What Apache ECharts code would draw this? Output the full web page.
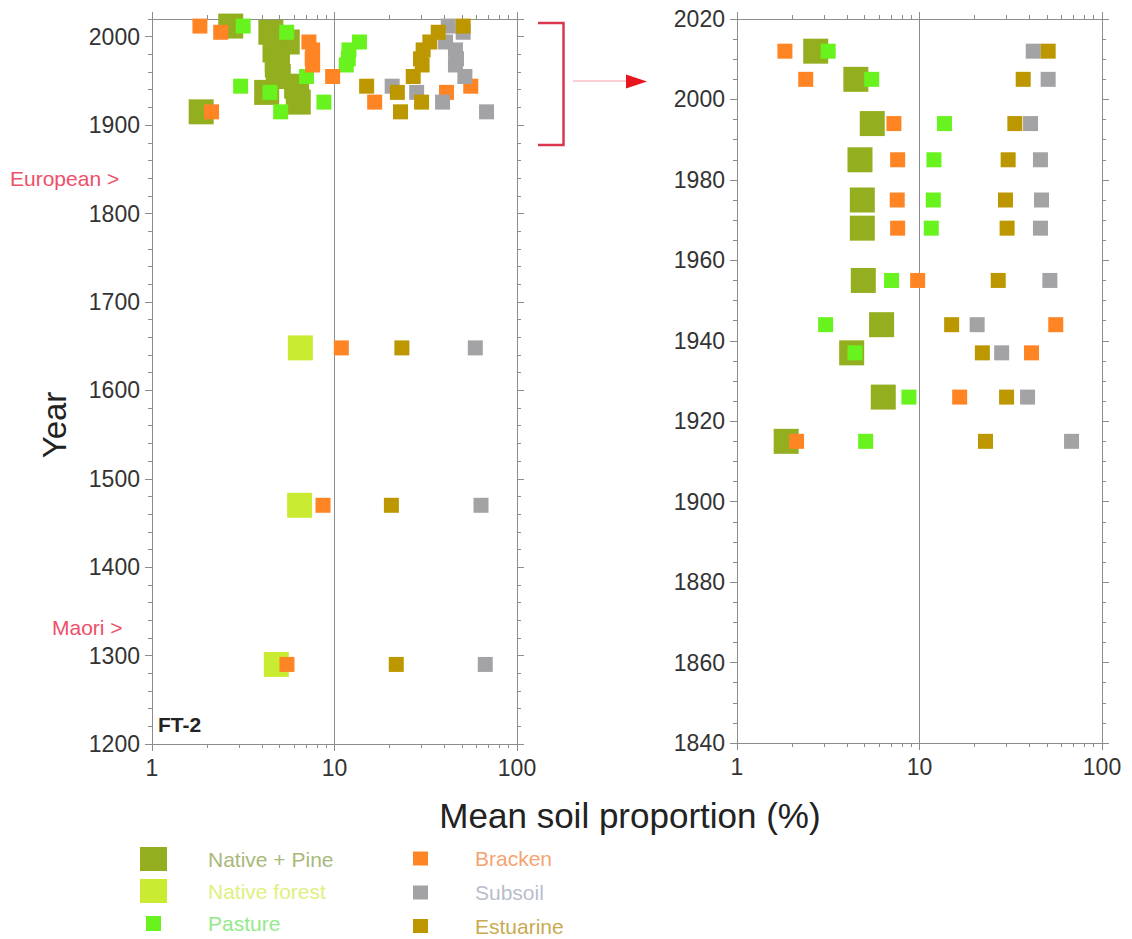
<!DOCTYPE html>
<html>
<head>
<meta charset="utf-8">
<title>FT-2 mean soil proportion by year</title>
<script src="https://cdn.jsdelivr.net/npm/echarts@6/dist/echarts.min.js"></script>
<style>
  html, body { margin: 0; padding: 0; background: #ffffff; }
  #chart { width: 1132px; height: 939px; }
</style>
</head>
<body>
<div id="chart"></div>
<script>
// Core dating horizons (years) and mean soil proportions (%) per source
const recentYears = [2012, 2005, 1994, 1985, 1975, 1968, 1955, 1944, 1937, 1926, 1915];
const earlyYears = [1648, 1470, 1290];

const nativePine = [2.70, 4.48, 5.51, 4.72, 4.86, 4.86, 4.92, 6.20, 4.25, 6.33, 1.86];
const pasture = [3.16, 5.47, 13.7, 12.0, 11.9, 11.6, 7.03, 3.06, 4.43, 8.75, 5.07];
const brackenRecent = [1.83, 2.38, 7.24, 7.59, 7.55, 7.59, 9.77, 55.8, 41.1, 16.6, 2.12];
const subsoilRecent = [42.0, 50.7, 40.6, 46.0, 46.6, 46.0, 51.8, 20.7, 28.2, 39.1, 68.1];
const estuarineRecent = [50.7, 37.0, 33.3, 30.6, 29.6, 30.2, 27.0, 15.0, 22.1, 30.0, 23.0];

const nativeForest = [6.50, 6.44, 4.80];
const brackenEarly = [10.9, 8.65, 5.49];
const subsoilEarly = [59.1, 63.5, 67.0];
const estuarineEarly = [23.4, 20.5, 21.8];

const FONT = '"Liberation Sans", Arial, Helvetica, sans-serif';
const AXIS_GRAY = '#8c8c8c';
const LABEL_COLOR = '#333333';

function pairs(values, years) {
  return values.map(function (v, i) { return [v, years[i]]; });
}

// source groups: name, colour, marker size, legend text colour, legend placement,
// data for the full record and for the 1840-2020 detail panel
const groups = [
  { name: 'Native + Pine', color: '#93ae1f', size: 25, text: '#a9b97a', lg: [140, 847, 27, 24, 36],
    full: pairs(nativePine, recentYears), detail: pairs(nativePine, recentYears) },
  { name: 'Native forest', color: '#c9ec32', size: 25, text: '#e0f07e', lg: [140, 879, 27, 24, 36],
    full: pairs(nativeForest, earlyYears), detail: [] },
  { name: 'Pasture', color: '#68f21e', size: 15, text: '#94e98a', lg: [146, 911.5, 15, 15, 42],
    full: pairs(pasture, recentYears), detail: pairs(pasture, recentYears) },
  { name: 'Bracken', color: '#ff8424', size: 15, text: '#f5a372', lg: [413, 846.5, 15, 14, 42],
    full: pairs(brackenRecent, recentYears).concat(pairs(brackenEarly, earlyYears)),
    detail: pairs(brackenRecent, recentYears) },
  { name: 'Subsoil', color: '#a3a3a6', size: 15, text: '#b9bdcc', lg: [413, 880.5, 15, 14, 42],
    full: pairs(subsoilRecent, recentYears).concat(pairs(subsoilEarly, earlyYears)),
    detail: pairs(subsoilRecent, recentYears) },
  { name: 'Estuarine', color: '#bd9700', size: 15, text: '#c9aa52', lg: [413, 914, 15, 14, 42],
    full: pairs(estuarineRecent, recentYears).concat(pairs(estuarineEarly, earlyYears)),
    detail: pairs(estuarineRecent, recentYears) }
];

const lineStyle = { color: AXIS_GRAY, width: 1 };

function logAxis(gridIndex, position, withLabels) {
  return {
    type: 'log', logBase: 10, min: 1, max: 100,
    gridIndex: gridIndex, position: position,
    axisLine: { show: true, onZero: false, lineStyle: lineStyle },
    axisTick: { show: true, inside: false, length: 7, lineStyle: lineStyle },
    minorTick: { show: true, splitNumber: 9, length: 4, lineStyle: lineStyle },
    axisLabel: {
      show: withLabels, fontSize: 23, fontFamily: FONT, color: LABEL_COLOR, margin: 12,
      formatter: function (v) { return String(v); }
    },
    splitLine: { show: withLabels, lineStyle: { color: AXIS_GRAY, width: 1 } },
    minorSplitLine: { show: false }
  };
}

function yearAxis(gridIndex, position, min, max, interval, opts) {
  return Object.assign({
    type: 'value', min: min, max: max, interval: interval,
    gridIndex: gridIndex, position: position,
    axisLine: { show: true, onZero: false, lineStyle: lineStyle },
    axisTick: { show: true, inside: false, length: 7, lineStyle: lineStyle },
    axisLabel: { show: false },
    splitLine: { show: false }
  }, opts);
}

const tickLabel = {
  show: true, fontSize: 23, fontFamily: FONT, color: LABEL_COLOR, margin: 12,
  formatter: function (v) { return String(v); }
};

const xAxes = [
  logAxis(0, 'bottom', true),
  logAxis(0, 'top', false),
  logAxis(1, 'bottom', true),
  logAxis(1, 'top', false)
];

const yAxes = [
  // full record, left side: centuries labelled, 20-year minor ticks
  yearAxis(0, 'left', 1200, 2020, 100, { axisLabel: Object.assign({ showMaxLabel: false }, tickLabel) }),
  yearAxis(0, 'left', 1200, 2020, 20, { axisTick: { show: true, length: 4, lineStyle: lineStyle } }),
  // full record, right side
  yearAxis(0, 'right', 1200, 2020, 100, {}),
  yearAxis(0, 'right', 1200, 2020, 20, { axisTick: { show: true, length: 4, lineStyle: lineStyle } }),
  // detail panel 1840-2020
  yearAxis(1, 'left', 1840, 2020, 20, {
    axisLabel: tickLabel,
    minorTick: { show: true, splitNumber: 4, length: 4, lineStyle: lineStyle }
  }),
  yearAxis(1, 'right', 1840, 2020, 20, {
    minorTick: { show: true, splitNumber: 4, length: 4, lineStyle: lineStyle }
  })
];

const series = [];
groups.forEach(function (g) {
  series.push({
    type: 'scatter', name: g.name, xAxisIndex: 0, yAxisIndex: 0,
    data: g.full, symbol: 'rect', symbolSize: g.size,
    itemStyle: { color: g.color, opacity: 1 }, emphasis: { disabled: true }
  });
});
groups.forEach(function (g) {
  if (!g.detail.length) return;
  series.push({
    type: 'scatter', name: g.name, xAxisIndex: 2, yAxisIndex: 4,
    data: g.detail, symbol: 'rect', symbolSize: g.size,
    itemStyle: { color: g.color, opacity: 1 }, emphasis: { disabled: true }
  });
});

// one legend block per source so each keys its own marker size
const legends = groups.map(function (g) {
  return {
    data: [{ name: g.name, textStyle: { color: g.text } }],
    orient: 'vertical', left: g.lg[0], top: g.lg[1],
    itemWidth: g.lg[2], itemHeight: g.lg[3], icon: 'rect', padding: 0,
    textStyle: { fontSize: 21, lineHeight: 24, fontFamily: FONT, padding: [0, 0, 0, g.lg[4]] }
  };
});

const chart = echarts.init(document.getElementById('chart'), null, { renderer: 'svg' });

chart.setOption({
  backgroundColor: '#ffffff',
  animation: false,
  grid: [
    { left: 152, top: 19, width: 365, height: 725, outerBoundsMode: 'none' },
    { left: 737, top: 19, width: 365, height: 724, outerBoundsMode: 'none' }
  ],
  xAxis: xAxes,
  yAxis: yAxes,
  legend: legends,
  series: series,
  graphic: [
    { type: 'text', left: 10, top: 168, style: { text: 'European >', fill: '#ef4f68', fontSize: 21, fontFamily: FONT } },
    { type: 'text', left: 52, top: 617, style: { text: 'Maori >', fill: '#ef4f68', fontSize: 21, fontFamily: FONT } },
    { type: 'text', left: 158, top: 714, style: { text: 'FT-2', fill: '#222222', fontSize: 21, fontWeight: 'bold', fontFamily: FONT } },
    { type: 'text', x: 54, y: 425, rotation: Math.PI / 2,
      style: { text: 'Year', fill: '#222222', fontSize: 33, fontFamily: FONT, align: 'center', verticalAlign: 'middle' } },
    { type: 'text', x: 630, y: 815,
      style: { text: 'Mean soil proportion (%)', fill: '#222222', fontSize: 35, fontFamily: FONT, align: 'center', verticalAlign: 'middle' } },
    // bracket marking the 1880-2020 span of the full record
    { type: 'polyline', shape: { points: [[538, 23], [563.5, 23], [563.5, 145], [538, 145]] },
      style: { stroke: '#d8394f', lineWidth: 2.5, fill: null } },
    // arrow to the detail panel
    { type: 'line', shape: { x1: 573, y1: 81, x2: 627, y2: 81 },
      style: { stroke: '#f0a0aa', lineWidth: 1.2 } },
    { type: 'polygon', shape: { points: [[626, 74.5], [647, 81.5], [626, 88.5]] },
      style: { fill: '#e8141e' } }
  ]
});
</script>
</body>
</html>
